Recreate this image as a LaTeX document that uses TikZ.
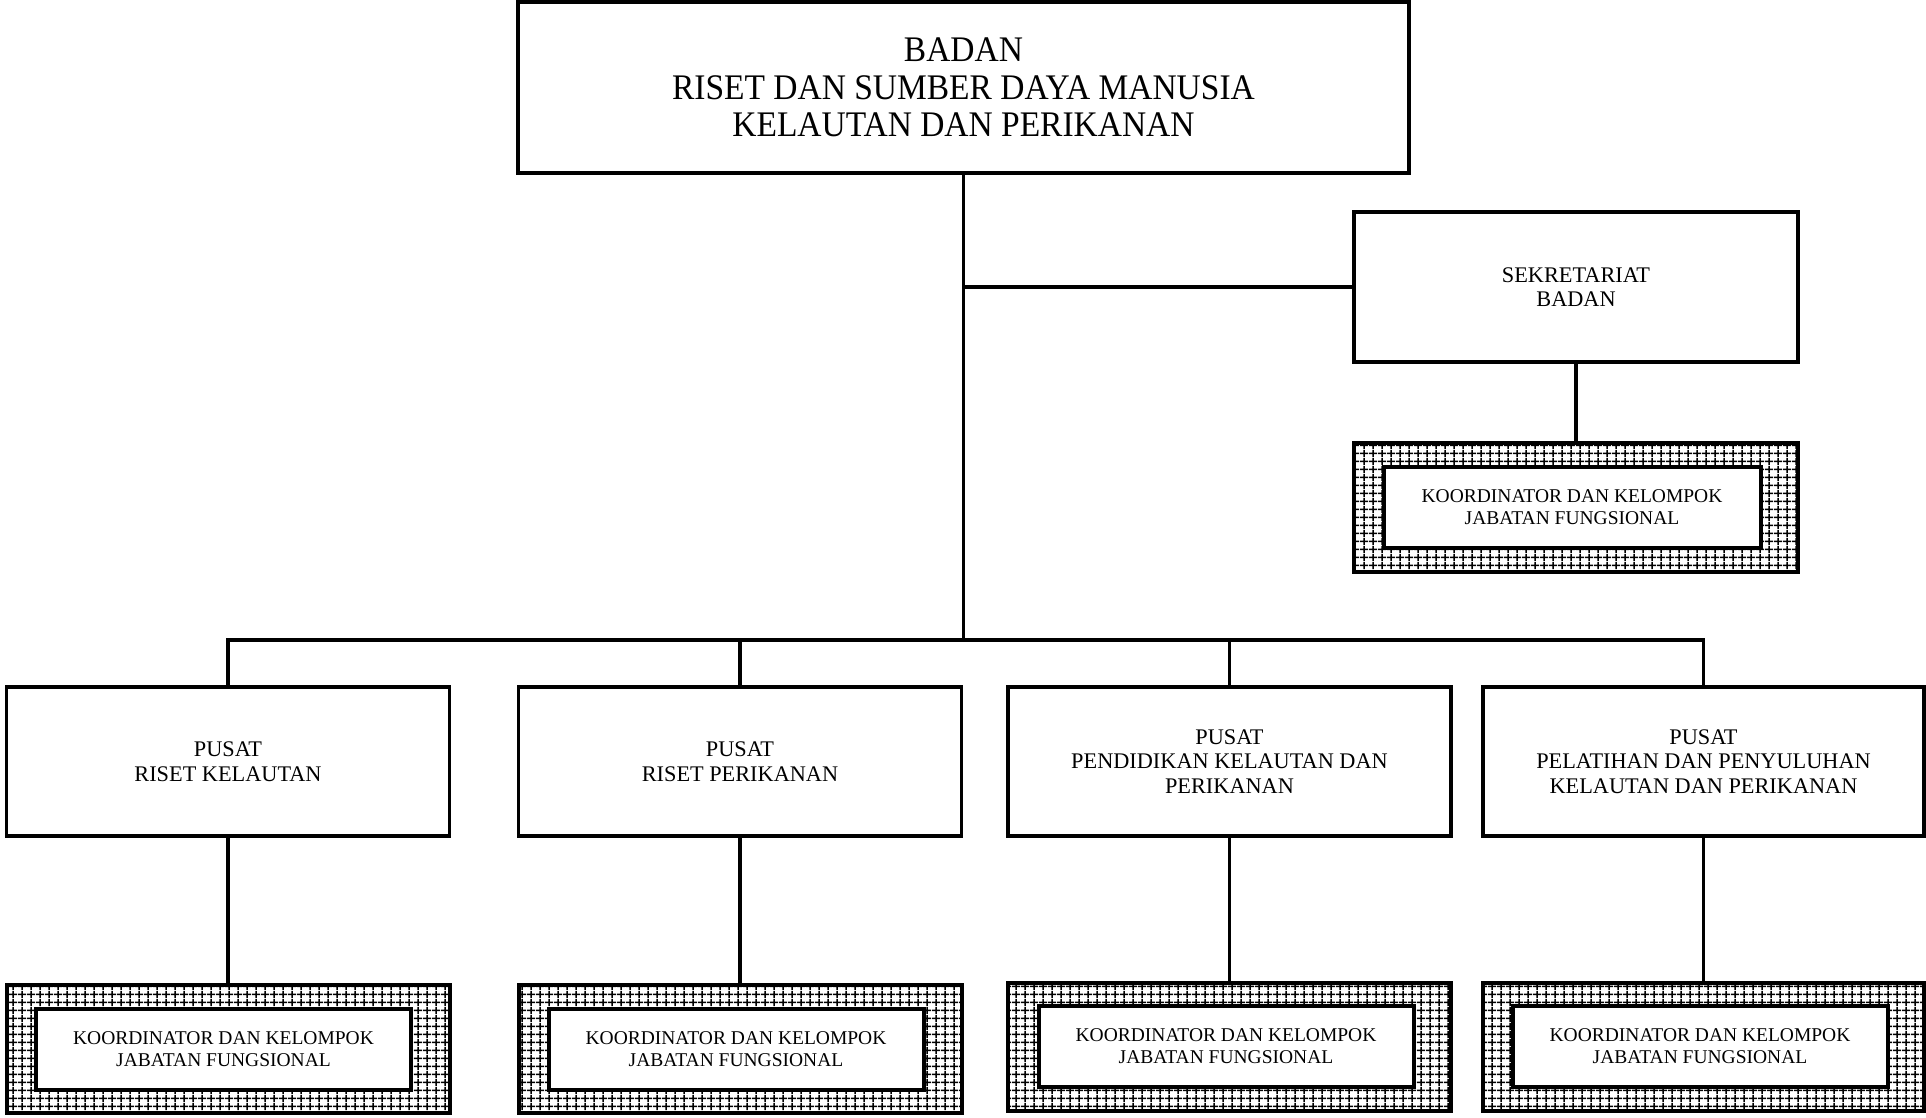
\documentclass[tikz,border=0pt]{standalone}
\usepackage{fontspec}
\setmainfont{Liberation Serif}
\newfontfamily\condfont[FakeStretch=0.93]{Liberation Serif}
\usetikzlibrary{patterns}
\pgfdeclarepatternformonly{kgrid}{\pgfpointorigin}{\pgfpoint{8.5pt}{7.5pt}}{\pgfpoint{8.5pt}{7.5pt}}{%
  \pgfsetlinewidth{1.6pt}%
  \pgfpathmoveto{\pgfpoint{0pt}{3.75pt}}\pgfpathlineto{\pgfpoint{8.5pt}{3.75pt}}%
  \pgfpathmoveto{\pgfpoint{4.25pt}{0pt}}\pgfpathlineto{\pgfpoint{4.25pt}{7.5pt}}%
  \pgfusepath{stroke}}
\tikzset{
  unitbox/.style={draw, line width=3.4pt, fill=white, align=center, inner sep=0pt,
    minimum width=443pt, minimum height=149pt, font=\fontsize{22.3}{24.5}\selectfont},
  hatchbox/.style={draw, line width=4pt, pattern=kgrid, inner sep=0pt,
    minimum width=443pt, minimum height=128pt},
  kbox/.style={draw, line width=4pt, fill=white, align=center, inner sep=0pt,
    minimum width=375pt, minimum height=81pt, font=\fontsize{19.5}{22}\selectfont},
  conn/.style={line width=3.4pt}
}
\begin{document}
\begin{tikzpicture}[x=1pt,y=-1pt]
\useasboundingbox (0,0) rectangle (1926,1117);
% top
\node[unitbox, minimum width=891pt, minimum height=171pt, font=\condfont\fontsize{36}{37.5}\selectfont] (top) at (963.5,87.5)
  {BADAN\\RISET DAN SUMBER DAYA MANUSIA\\KELAUTAN DAN PERIKANAN};
% sekretariat
\node[unitbox, minimum width=444pt, minimum height=150pt] (sek) at (1576,287) {SEKRETARIAT\\BADAN};
\node[hatchbox, minimum width=444pt, minimum height=129pt] (kso) at (1576,507.5) {};
\node[kbox, minimum width=377pt] (ks) at (1572,507.5) {KOORDINATOR DAN KELOMPOK\\JABATAN FUNGSIONAL};
% pusat
\node[unitbox] (p1) at (228,761.5) {PUSAT\\RISET KELAUTAN};
\node[unitbox] (p2) at (740,761.5) {PUSAT\\RISET PERIKANAN};
\node[unitbox] (p3) at (1229.5,761.5) {PUSAT\\PENDIDIKAN KELAUTAN DAN\\PERIKANAN};
\node[unitbox, minimum width=441pt] (p4) at (1703.5,761.5) {PUSAT\\PELATIHAN DAN PENYULUHAN\\KELAUTAN DAN PERIKANAN};
% koordinator boxes
\node[hatchbox] (k1o) at (228,1049) {};
\node[kbox] (k1) at (223.5,1049) {KOORDINATOR DAN KELOMPOK\\JABATAN FUNGSIONAL};
\node[hatchbox] (k2o) at (740,1049) {};
\node[kbox] (k2) at (736,1049) {KOORDINATOR DAN KELOMPOK\\JABATAN FUNGSIONAL};
\node[hatchbox] (k3o) at (1229.5,1046.5) {};
\node[kbox] (k3) at (1226,1046.5) {KOORDINATOR DAN KELOMPOK\\JABATAN FUNGSIONAL};
\node[hatchbox, minimum width=441pt] (k4o) at (1703.5,1046.5) {};
\node[kbox] (k4) at (1700,1046.5) {KOORDINATOR DAN KELOMPOK\\JABATAN FUNGSIONAL};
% connectors
\coordinate (bus) at (964,640);
\draw[conn] (top.south) -- (top.south |- bus);
\draw[conn] (top.south |- sek.west) -- (sek.west);
\draw[conn] (sek.south) -- (kso.north);
\draw[conn] (p1.north) -- (p1.north |- bus) -| (p4.north);
\draw[conn] (p2.north) -- (p2.north |- bus);
\draw[conn] (p3.north) -- (p3.north |- bus);
\draw[conn] (p1.south) -- (k1o.north);
\draw[conn] (p2.south) -- (k2o.north);
\draw[conn] (p3.south) -- (k3o.north);
\draw[conn] (p4.south) -- (k4o.north);
\end{tikzpicture}
\end{document}
